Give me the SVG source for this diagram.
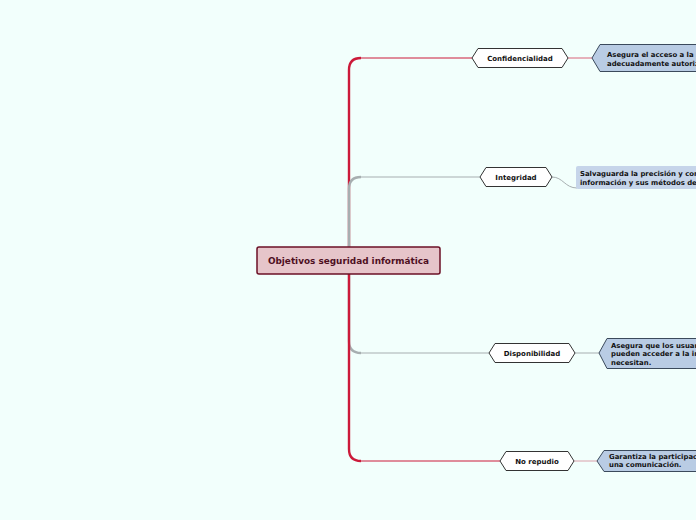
<svg xmlns="http://www.w3.org/2000/svg" width="696" height="520" viewBox="0 0 696 520">
<style>
.t{font-family:"DejaVu Sans","Verdana",sans-serif;font-weight:bold;fill:#111}
.n{font-size:7px;text-anchor:middle}
.d{font-size:6.9px}
.hex{fill:#fff;stroke:#333;stroke-width:1}
.call{fill:#b9cce4;stroke:#3b4a5c;stroke-width:1}
.red{fill:none;stroke:#cc1a3a}
.gray{fill:none;stroke:#a7aeb0}
</style>
<rect width="696" height="520" fill="#f2fffc"/>
<g id="connectors">
  <path class="red" stroke-width="1" d="M359,58 H472" stroke="#d9657a"/>
  <path class="red" stroke-width="2.4" d="M349,247 V70 Q349,58 361,58"/>
  <path class="gray" stroke-width="2.4" d="M349,247 V189 Q349,177 361,177"/>
  <path class="gray" stroke-width="1" d="M359,177 H480"/>
  <path class="gray" stroke-width="1" d="M359,353 H489"/>
  <path class="gray" stroke-width="2.4" d="M349,274 V341 Q349,353 361,353"/>
  <path class="red" stroke-width="2.4" d="M349,274 V449 Q349,461 361,461"/>
  <path class="red" stroke-width="1" d="M359,461 H500" stroke="#d9657a"/>
  <path fill="none" stroke="#d9657a" stroke-width="1" d="M568,58 H592"/>
  <path fill="none" stroke="#a7aeb0" stroke-width="1" d="M552,177 C563,177 565,188 577,188"/>
  <path fill="none" stroke="#a7aeb0" stroke-width="1" d="M575,353 H599"/>
  <path fill="none" stroke="#d9a0aa" stroke-width="1" d="M574,461 H597"/>
</g>
<g id="central">
  <rect x="257" y="247" width="183" height="27" rx="2" fill="#e6c5ca" stroke="#6b1026" stroke-width="1.5"/>
  <text class="t" x="348.5" y="264" font-size="8.9" text-anchor="middle" style="fill:#4e0f1f">Objetivos seguridad informática</text>
</g>
<g id="confidencialidad">
  <polygon class="hex" points="472,58 478,48.5 562,48.5 568,58 562,67.5 478,67.5"/>
  <text class="t n" x="520" y="60.5">Confidencialidad</text>
</g>
<g id="integridad">
  <polygon class="hex" points="480,177 486,167.5 546,167.5 552,177 546,186.5 486,186.5"/>
  <text class="t n" x="516" y="179.5">Integridad</text>
</g>
<g id="disponibilidad">
  <polygon class="hex" points="489,353 495,343.5 569,343.5 575,353 569,362.5 495,362.5"/>
  <text class="t n" x="532" y="355.5">Disponibilidad</text>
</g>
<g id="norepudio">
  <polygon class="hex" points="500,461 506,451.5 568,451.5 574,461 568,470.5 506,470.5"/>
  <text class="t n" x="537" y="463.5">No repudio</text>
</g>
<g id="desc-confidencialidad">
  <polygon class="call" points="592,58 600,44.5 700,44.5 700,71.5 600,71.5"/>
  <text class="t d" x="607" y="57">Asegura el acceso a la información</text>
  <text class="t d" x="607" y="65.5">adecuadamente autorizados.</text>
</g>
<g id="desc-integridad">
  <rect x="576" y="166" width="130" height="23" rx="2" fill="#c6d5ea"/>
  <text class="t d" x="580" y="176">Salvaguarda la precisión y completitud</text>
  <text class="t d" x="580" y="184.5">información y sus métodos de proceso.</text>
</g>
<g id="desc-disponibilidad">
  <polygon class="call" points="599,353 607,338.5 700,338.5 700,368.5 607,368.5"/>
  <text class="t d" x="611" y="347.5">Asegura que los usuarios autorizados</text>
  <text class="t d" x="611" y="356">pueden acceder a la información</text>
  <text class="t d" x="611" y="364.5">necesitan.</text>
</g>
<g id="desc-norepudio">
  <polygon class="call" points="597,461 604,450.5 700,450.5 700,471.5 604,471.5"/>
  <text class="t d" x="609" y="458.5">Garantiza la participación de las partes</text>
  <text class="t d" x="609" y="467">una comunicación.</text>
</g>
</svg>
